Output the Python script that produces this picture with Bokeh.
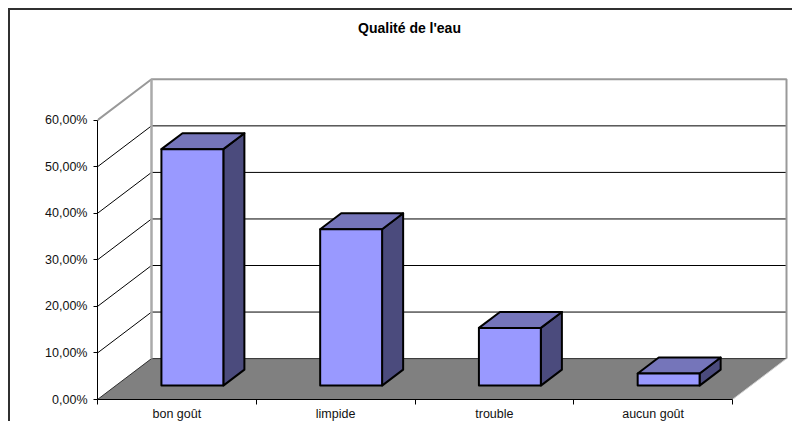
from bokeh.plotting import figure
from bokeh.models import Range1d, LinearAxis, FixedTicker
from bokeh.embed import file_html
from bokeh.resources import INLINE
from bokeh.core.properties import value

# ---- data ----
title_text = "Qualité de l'eau"
categories = ["bon goût", "limpide", "trouble", "aucun goût"]
values = [50.8, 33.6, 12.4, 2.6]
y_ticks = [0, 10, 20, 30, 40, 50, 60]
y_tick_labels = ["0,00%", "10,00%", "20,00%", "30,00%", "40,00%", "50,00%", "60,00%"]

# ---- layout constants ----
W, H = 784, 413
LEFT, BOTTOM = 87, 23
PX_X = 158.75            # pixels per category
PX_Y = 46.6667 / 10      # pixels per percent
DX = 54 / PX_X           # depth offset (x, data units)
DY = 41 / PX_Y           # depth offset (y, data units)
n = len(categories)
ymax = y_ticks[-1]
x_end = (W - LEFT) / PX_X
y_end = (H - BOTTOM) / PX_Y

FONT = value("Liberation Sans")

p = figure(width=W, height=H, output_backend="svg", toolbar_location=None,
           x_range=Range1d(0, x_end), y_range=Range1d(0, y_end),
           x_axis_type=None, y_axis_type=None,
           min_border_left=LEFT, min_border_right=0,
           min_border_top=0, min_border_bottom=BOTTOM)
p.outline_line_color = None
p.background_fill_color = "white"
p.border_fill_color = "white"
p.styles = {"margin-left": "8px", "margin-top": "8px",
            "border-top": "2px solid #303030", "border-left": "2px solid #303030"}

# ---- walls and floor ----
p.patch([DX, n + DX, n + DX, DX], [DY, DY, ymax + DY, ymax + DY],
        fill_color="white", line_color=None)
p.patch([0, DX, DX, 0], [0, DY, ymax + DY, ymax],
        fill_color="white", line_color=None)
p.patch([0, n, n + DX, DX], [0, 0, DY, DY],
        fill_color="#808080", line_color=None)

# gridlines on side and back wall
gx, gy = [], []
for v in y_ticks[1:-1]:
    gx.append([0, DX, n + DX])
    gy.append([v, v + DY, v + DY])
p.multi_line(gx, gy, line_color="black", line_width=1)

# floor edges
p.line([0, DX, n + DX], [0, DY, DY], line_color="#303030", line_width=1)
p.line([n, n + DX], [0, DY], line_color="#d0d0d0", line_width=1)

# wall borders
p.line([0, DX, n + DX, n + DX], [ymax, ymax + DY, ymax + DY, DY],
       line_color="#999999", line_width=2)
p.line([DX, DX], [DY, ymax + DY], line_color="#aaaaaa", line_width=2.5)

# ---- bars ----
D0, D1 = 0.34, 0.73
BX0, BW = 0.287, 0.39
fx, fy, tx, ty, sx, sy = [], [], [], [], [], []
for i, v in enumerate(values):
    x0 = i + BX0
    x1 = x0 + BW
    a0, a1 = D0 * DX, D1 * DX
    b0, b1 = D0 * DY, D1 * DY
    fx.append([x0 + a0, x1 + a0, x1 + a0, x0 + a0])
    fy.append([b0, b0, v + b0, v + b0])
    tx.append([x0 + a0, x1 + a0, x1 + a1, x0 + a1])
    ty.append([v + b0, v + b0, v + b1, v + b1])
    sx.append([x1 + a0, x1 + a1, x1 + a1, x1 + a0])
    sy.append([b0, b1, v + b1, v + b0])

p.patches(sx, sy, fill_color="#4b4b7d", line_color="black", line_width=2, line_join="round")
p.patches(tx, ty, fill_color="#7575ba", line_color="black", line_width=2, line_join="round")
p.patches(fx, fy, fill_color="#9999ff", line_color="black", line_width=2, line_join="round")

# ---- axes ----
yaxis = LinearAxis(ticker=FixedTicker(ticks=y_ticks), bounds=(0, ymax))
yaxis.major_label_overrides = {t: lab for t, lab in zip(y_ticks, y_tick_labels)}
yaxis.major_tick_out = 4
yaxis.major_tick_in = 0
yaxis.minor_tick_line_color = None
yaxis.major_label_standoff = 6
yaxis.major_label_text_font = "Liberation Sans"
yaxis.major_label_text_font_size = "12.5px"
yaxis.major_label_text_color = "#111111"
yaxis.axis_line_color = "black"
yaxis.major_tick_line_color = "black"
p.add_layout(yaxis, "left")

centers = [i + 0.5 for i in range(n)]
bounds_ticks = list(range(n + 1))
xaxis = LinearAxis(ticker=FixedTicker(ticks=centers, minor_ticks=bounds_ticks), bounds=(0, n))
xaxis.major_label_overrides = {c: lab for c, lab in zip(centers, categories)}
xaxis.major_tick_out = 0
xaxis.major_tick_in = 0
xaxis.minor_tick_out = 5
xaxis.minor_tick_in = 0
xaxis.minor_tick_line_color = "black"
xaxis.major_label_standoff = 2
xaxis.major_label_text_font = "Liberation Sans"
xaxis.major_label_text_font_size = "12.5px"
xaxis.major_label_text_color = "#111111"
xaxis.axis_line_color = "black"
p.add_layout(xaxis, "below")

# ---- title ----
title_x = (409 - 97) / PX_X
title_y = (400 - 28) / PX_Y
p.text(x=[title_x], y=[title_y], text=[title_text], text_font=FONT,
       text_font_style="bold", text_font_size="14px",
       text_align="center", text_baseline="middle", text_color="black")

open("out.html", "w").write(file_html(p, INLINE))
